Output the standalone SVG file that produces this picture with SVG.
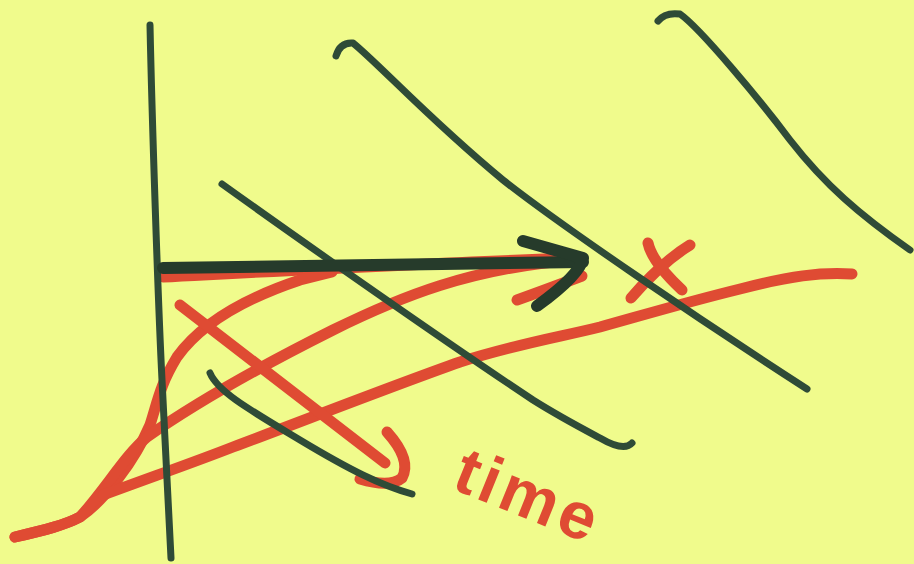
<svg xmlns="http://www.w3.org/2000/svg" width="914" height="564" viewBox="0 0 914 564">
<style>
.g{fill:none;stroke:#2f4b37;stroke-width:7;stroke-linecap:round;stroke-linejoin:round}
.r{fill:none;stroke:#df4b33;stroke-width:11;stroke-linecap:round;stroke-linejoin:round}
.k{fill:none;stroke:#263b2b;stroke-width:12;stroke-linecap:round;stroke-linejoin:round}
.t{font-family:"Liberation Sans",Arial,sans-serif;font-weight:bold;font-size:66px;fill:#df4b33}
</style>
<rect width="914" height="564" fill="#f0fb8c"/>
<g id="red-curves">
<path class="r" d="M163,277 C300,270 450,262 575,258"/>
<path class="r" d="M15,537 C45,530 65,525 80,517 C105,500 135,460 150,425 C158,400 160,385 177,357 C200,325 240,300 300,280 L332,272"/>
<path class="r" d="M15,537 C45,530 65,525 80,517 C105,490 125,455 147,437 C200,400 267,363 333,330 C400,297 470,268 575,260"/>
<path class="r" d="M103,495 C160,474 200,460 233,447 C300,422 400,383 460,362 C520,343 560,337 600,327 C640,316 683,303 740,289 C790,276 820,272 852,274"/>
<path class="r" d="M517,300 Q545,290 582,276"/>
<path class="r" d="M180,305 L385,463"/>
<path class="r" d="M387,432 Q412,460 402,478 Q390,488 360,479"/>
<path class="r" d="M648,243 Q652,262 682,290"/>
<path class="r" d="M690,245 Q662,262 631,298"/>
</g>
<g id="green-lines">
<path class="g" d="M150,25 C152,120 158,300 162,380 L171,558"/>
<path class="g" d="M222,184 C300,240 450,345 533,400 C560,417 585,430 600,438 Q624,452 632,443"/>
<path class="g" d="M336,56 Q340,42 353,43 C380,65 430,120 503,180 C560,225 700,320 807,389"/>
<path class="g" d="M658,21 Q665,12 680,14 C700,28 760,100 790,140 C825,185 860,215 910,250"/>
<path class="g" d="M210,373 C218,392 250,410 300,440 S380,485 412,494"/>
</g>
<g id="arrow">
<path class="k" d="M163,268 L583,262"/>
<path class="k" d="M523,241 L583,258 Q580,275 537,306"/>
</g>
<g id="label">
<text class="t" x="450" y="488" letter-spacing="4" transform="rotate(22 450 488)">time</text>
</g>
</svg>
